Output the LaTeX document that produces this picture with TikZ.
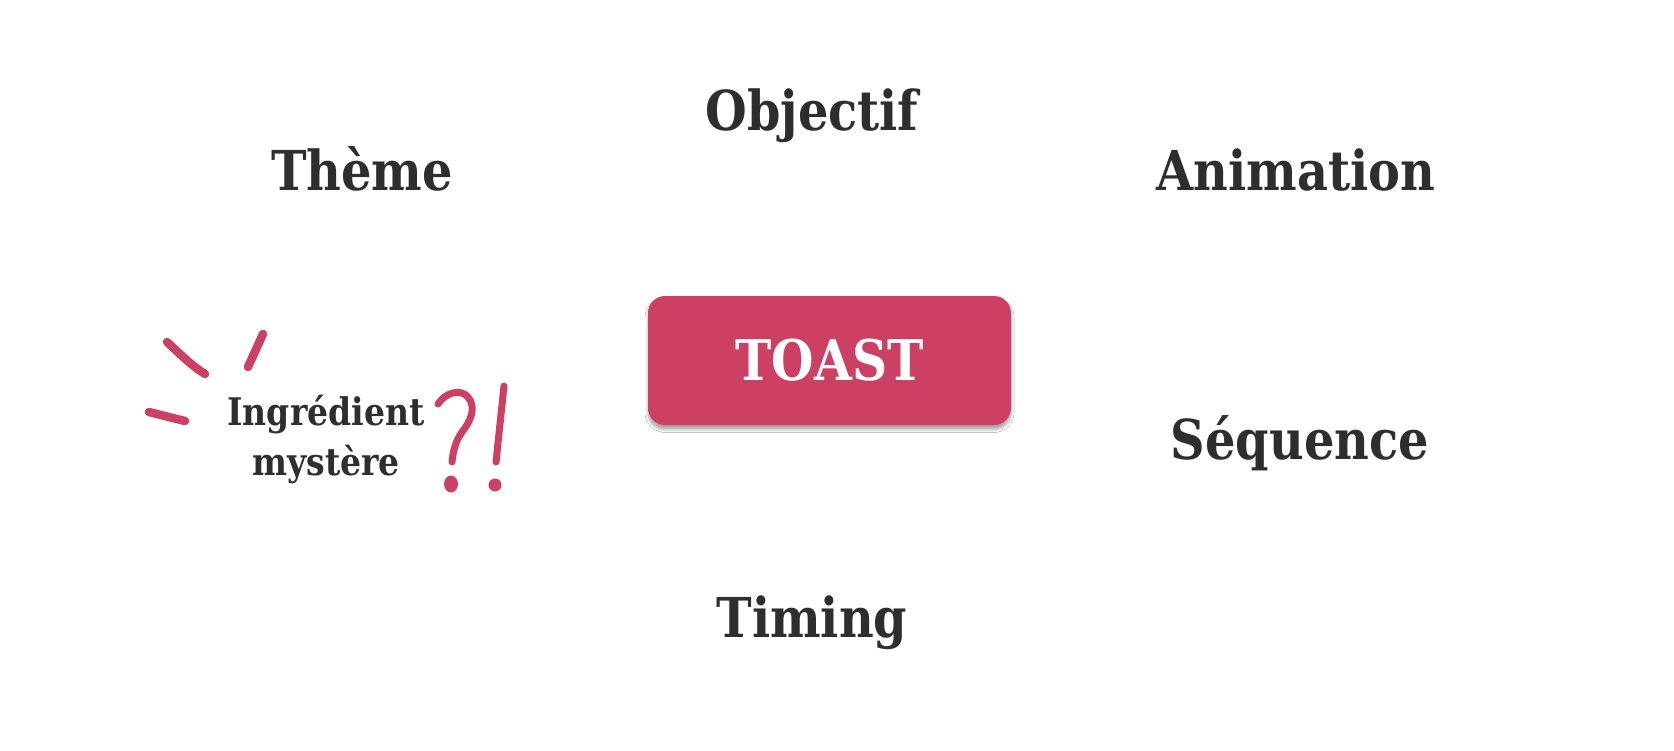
\documentclass[tikz,border=0pt]{standalone}
\usepackage{fontspec}
\setmainfont{DejaVu Serif}[FakeStretch=0.87]
\usetikzlibrary{shadows.blur}
\definecolor{ink}{HTML}{2E2E2E}
\definecolor{toastpink}{HTML}{CC4163}
\begin{document}
\begin{tikzpicture}[x=1pt,y=-1pt,
  lbl/.style={font=\fontsize{55}{60}\selectfont\bfseries, text=ink, inner sep=0pt, anchor=base},
  toastbox/.style={fill=toastpink, rounded corners=17pt, minimum width=363pt, minimum height=129pt,
    inner sep=0pt, text=white, font=\fontsize{56}{60}\selectfont\bfseries,
    blur shadow={shadow xshift=0pt, shadow yshift=-4.5pt, shadow blur radius=3pt, shadow opacity=35}},
  mystery/.style={font=\fontsize{38}{50}\selectfont\bfseries, text=ink, inner sep=0pt, align=center},
  pinkstroke/.style={draw=toastpink, line width=8.5pt, line cap=round},
  pinkdot/.style={fill=toastpink, draw=none}
]
\useasboundingbox (0,0) rectangle (1674,750);
\fill[white] (0,0) rectangle (1674,750);

\node[toastbox] (toast) at (829.5,360.5) {\raisebox{-2pt}{TOAST}};

\node[lbl] (objectif) at (812,130) {Objectif};
\node[lbl] (theme) at (362,190) {Thème};
\node[lbl] (animation) at (1296,190) {Animation};
\node[lbl] (sequence) at (1300,459) {Séquence};
\node[lbl] (timing) at (812,637) {Timing};

\node[mystery] (mystere) at (326,440) {Ingrédient\\mystère};

% sparkle strokes
\draw[pinkstroke] (167,342) .. controls (180,354) and (192,366) .. (205,374);
\draw[pinkstroke] (263,334) -- (248,367);
\draw[pinkstroke] (149,412) -- (185,421);

% question mark
\draw[pinkstroke, line width=7pt] (438,404) .. controls (445,393) and (460,388) .. (468,397)
   .. controls (477,408) and (470,422) .. (462,432) .. controls (455,442) and (453,452) .. (452,462);
\fill[pinkdot] (451,484) ellipse [x radius=7pt, y radius=8.5pt];

% exclamation mark
\draw[pinkstroke, line width=7pt] (504,386) -- (496,462);
\fill[pinkdot] (495,485) circle [radius=6.5pt];
\end{tikzpicture}
\end{document}
